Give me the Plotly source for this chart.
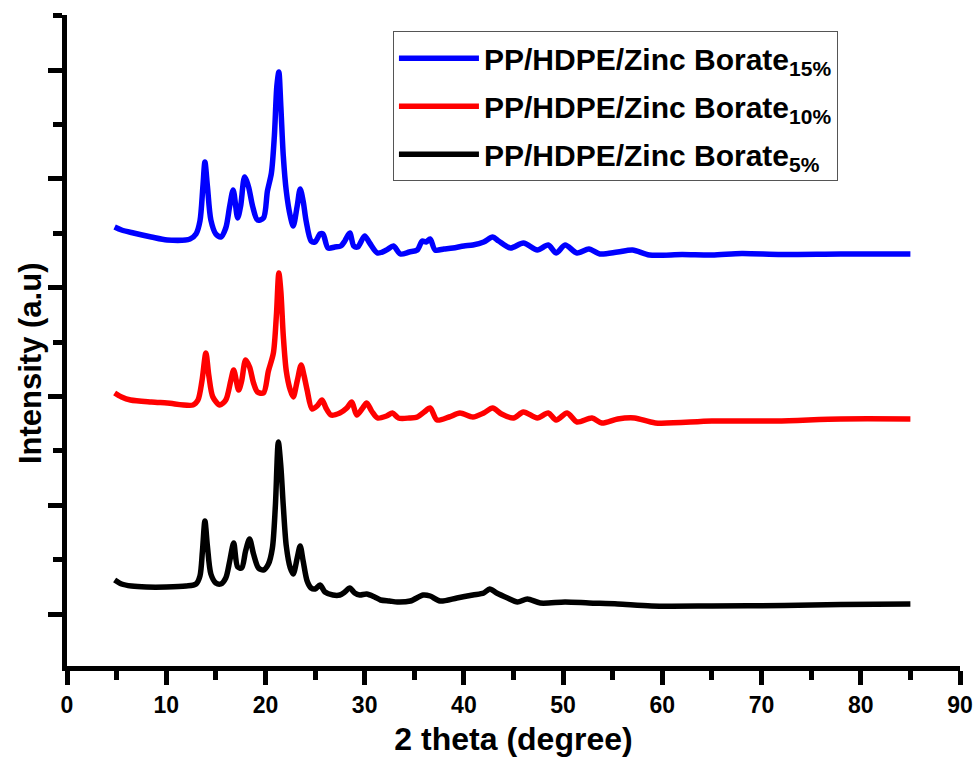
import plotly.graph_objects as go

# 2 theta (degree) and intensity (a.u., stacked)
x_15 = [4.8, 5.5, 6.7, 8.5, 10.1, 12.4, 13.0, 13.4, 13.7, 13.9, 14.15, 14.5, 15.0, 15.5, 16.0, 16.4,
        16.75, 17.2, 17.5, 17.9, 18.3, 18.7, 19.2, 19.8, 20.2, 20.6, 20.9, 21.15, 21.35, 21.55, 21.8,
        22.1, 22.5, 22.8, 23.2, 23.5, 23.8, 24.1, 24.6, 25.0, 25.5, 25.8, 26.3, 27.0, 27.6, 28.0,
        28.5, 28.9, 29.3, 30.0, 30.5, 31.3, 32.2, 32.9, 33.6, 34.5, 35.3, 35.8, 36.2, 36.6, 37.1,
        38.0, 38.9, 40.0, 40.9, 42.0, 42.9, 43.5, 44.7, 46.0, 47.4, 48.5, 49.3, 50.2, 51.4, 52.6,
        53.7, 55.5, 57.0, 58.7, 62.0, 65.0, 68.0, 72.0, 78.0, 85.0]
y_15 = [4390, 4360, 4330, 4290, 4260, 4270, 4320, 4450, 4800, 5040, 4800, 4460, 4320, 4290, 4380, 4600,
        4760, 4480, 4600, 4890, 4790, 4600, 4460, 4480, 4750, 4930, 5300, 5800, 5940, 5600, 5100,
        4750, 4500, 4400, 4600, 4770, 4650, 4450, 4250, 4240, 4320, 4320, 4180, 4190, 4200, 4250,
        4330, 4200, 4190, 4300, 4230, 4130, 4160, 4200, 4120, 4140, 4160, 4250, 4240, 4270, 4160,
        4170, 4180, 4200, 4210, 4240, 4290, 4250, 4180, 4230, 4160, 4210, 4130, 4210, 4130, 4170,
        4120, 4140, 4160, 4110, 4115, 4110, 4125, 4115, 4120, 4120]

x_10 = [4.8, 5.5, 6.4, 8.5, 10.1, 12.7, 13.2, 13.6, 14.0, 14.3, 14.7, 15.4, 16.0, 16.5, 16.8, 17.3,
        17.6, 18.0, 18.4, 18.8, 19.2, 19.8, 20.3, 20.8, 21.1, 21.35, 21.55, 21.8, 22.1, 22.5, 22.8,
        23.2, 23.6, 23.9, 24.2, 24.7, 25.2, 25.7, 26.1, 26.6, 27.5, 28.2, 28.7, 29.2, 29.8, 30.2,
        30.7, 31.3, 32.2, 32.8, 33.4, 34.5, 35.3, 36.0, 36.6, 37.3, 38.5, 39.6, 40.9, 42.0, 42.9,
        43.8, 45.0, 46.0, 47.4, 48.5, 49.3, 50.4, 51.4, 52.9, 53.9, 55.5, 57.2, 59.3, 65.0, 71.5,
        78.0, 85.0]
y_10 = [2730, 2690, 2660, 2640, 2630, 2610, 2660, 2850, 3130, 2900, 2690, 2610, 2660, 2850, 2960, 2760,
        2850, 3060, 2990, 2830, 2740, 2730, 2950, 3130, 3500, 3930, 3750, 3300, 2950, 2760, 2690,
        2850, 3010, 2900, 2760, 2570, 2600, 2660, 2580, 2510, 2530, 2580, 2640, 2510, 2580, 2630,
        2550, 2480, 2500, 2530, 2480, 2480, 2490, 2540, 2580, 2460, 2490, 2530, 2490, 2530, 2580,
        2520, 2480, 2540, 2480, 2530, 2460, 2530, 2440, 2480, 2430, 2470, 2480, 2430, 2450, 2450,
        2470, 2470]

x_5 = [4.8, 5.5, 6.5, 8.0, 10.0, 12.0, 13.0, 13.4, 13.65, 13.9, 14.15, 14.5, 15.0, 15.5, 16.0, 16.4,
       16.8, 17.2, 17.6, 18.0, 18.4, 18.8, 19.3, 19.8, 20.3, 20.7, 21.0, 21.3, 21.55, 21.8, 22.1,
       22.5, 22.8, 23.2, 23.5, 23.8, 24.2, 24.6, 25.0, 25.5, 26.0, 26.8, 27.5, 28.0, 28.5, 29.0,
       29.5, 30.2, 31.0, 31.6, 32.5, 33.3, 34.6, 35.9, 36.6, 37.6, 39.3, 40.9, 42.0, 42.6, 43.3,
       44.4, 45.4, 46.4, 47.7, 50.2, 52.6, 55.5, 58.9, 65.0, 72.3, 78.0, 85.0]
y_5 = [860, 820, 800, 790, 790, 800, 820, 900, 1150, 1450, 1200, 920, 830, 820, 880, 1050,
       1230, 990, 980, 1150, 1270, 1120, 980, 960, 1020, 1180, 1600, 2240, 2000, 1600, 1200,
       980, 920, 1080, 1200, 1050, 850, 780, 770, 810, 740, 710, 710, 740, 780, 730,
       710, 720, 690, 660, 650, 640, 650, 710, 700, 650, 680, 710, 730, 770, 730,
       680, 640, 670, 630, 640, 630, 620, 600, 600, 605, 615, 620]

names = ["PP/HDPE/Zinc Borate<sub>15%</sub>",
         "PP/HDPE/Zinc Borate<sub>10%</sub>",
         "PP/HDPE/Zinc Borate<sub>5%</sub>"]
colors = ["#0000FF", "#FF0000", "#000000"]

FONT = "Liberation Sans, Arial, sans-serif"

fig = go.Figure()
for i, (xs, ys) in enumerate([(x_15, y_15), (x_10, y_10), (x_5, y_5)]):
    fig.add_trace(go.Scatter(x=xs, y=ys, mode="lines", name=names[i],
                             legendgroup=f"g{i}",
                             line=dict(color=colors[i], width=5.5, shape="spline", smoothing=0.8)))

fig.update_layout(
    width=973, height=757,
    margin=dict(l=67, r=13, t=15, b=91),
    paper_bgcolor="white", plot_bgcolor="white",
    font=dict(family=FONT, color="black", size=23, weight="bold"),
    showlegend=True,
    legend=dict(x=0.365, y=0.975, xanchor="left", yanchor="top",
                bordercolor="#555555", borderwidth=1, bgcolor="white",
                font=dict(size=30, family=FONT, weight="bold"),
                tracegroupgap=6, itemwidth=80),
    xaxis=dict(range=[0, 90], dtick=10, tick0=0, showgrid=False, zeroline=False,
               automargin=False,
               showline=True, linecolor="black", linewidth=5,
               ticks="outside", ticklen=14, tickwidth=5, tickcolor="black",
               minor=dict(dtick=5, tick0=0, ticks="outside", ticklen=9, tickwidth=5, tickcolor="black"),
               tickfont=dict(size=23, family=FONT, weight="bold"),
               title=dict(text="2 theta (degree)", font=dict(size=32, family=FONT, weight="bold"), standoff=24)),
    yaxis=dict(range=[0, 6510], tick0=520, dtick=1088, showgrid=False, zeroline=False,
               automargin=False,
               showline=True, linecolor="black", linewidth=5, showticklabels=False,
               ticks="outside", ticklen=14, tickwidth=5, tickcolor="black",
               minor=dict(tick0=520, dtick=544, ticks="outside", ticklen=9, tickwidth=5, tickcolor="black")),
    annotations=[dict(text="Intensity (a.u)", xref="paper", yref="paper",
                      x=-0.0414, y=0.4654, xanchor="center", yanchor="middle",
                      textangle=-90, showarrow=False,
                      font=dict(size=31, family=FONT, weight="bold", color="black"))],
)

fig.write_html("out.html")
